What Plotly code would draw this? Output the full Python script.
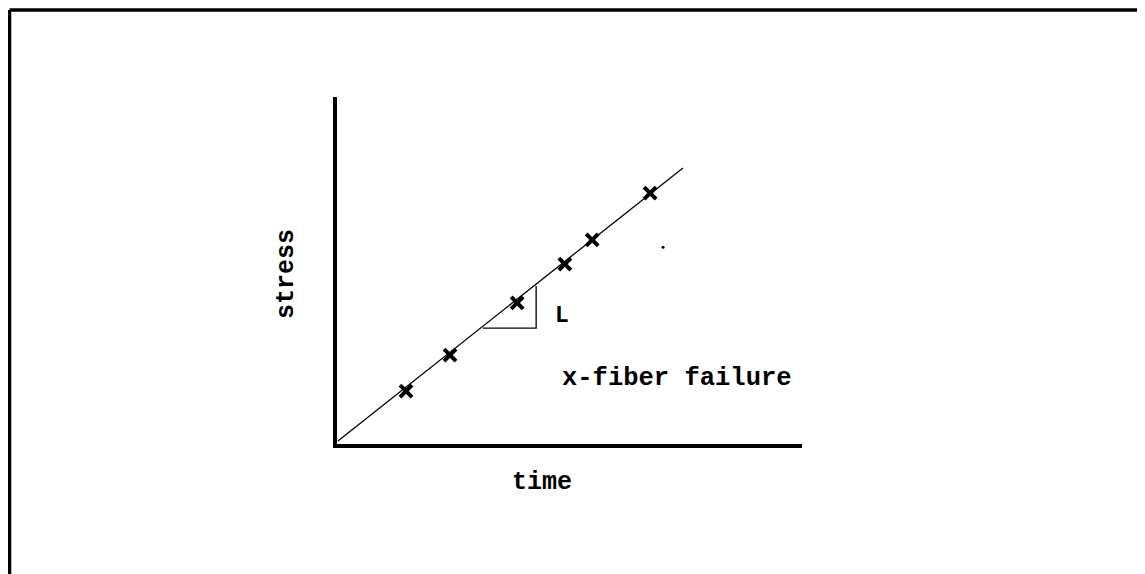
import plotly.graph_objects as go

# Data (abstract units: time vs stress)
fail_time = [1.49, 2.44, 3.89, 4.92, 5.51, 6.76]
fail_stress = [1.53, 2.57, 4.08, 5.20, 5.90, 7.25]
fit_time = [0.02, 7.47]
fit_stress = [0.09, 7.98]
slope_time = [3.15, 4.30, 4.30]
slope_stress = [3.35, 3.35, 4.57]

FONT = "Liberation Mono, Courier New, monospace"
OFF = 8  # browser body margin
W, H = 1145 - OFF, 574 - OFF

def px(x):
    return (x - OFF) / W

def py(y):
    return 1 - (y - OFF) / H

fig = go.Figure()
fig.add_trace(go.Scatter(x=fit_time, y=fit_stress, mode="lines",
                         line=dict(color="black", width=1.3), hoverinfo="skip"))
fig.add_trace(go.Scatter(x=slope_time, y=slope_stress, mode="lines",
                         line=dict(color="black", width=1.3), hoverinfo="skip"))
fig.add_trace(go.Scatter(x=fail_time, y=fail_stress, mode="markers",
                         marker=dict(symbol="x-thin", size=12, color="black",
                                     line=dict(width=4, color="black"))))
fig.add_trace(go.Scatter(x=[7.04], y=[5.69], mode="markers",
                         marker=dict(symbol="circle", size=3, color="black"),
                         hoverinfo="skip"))

fig.add_annotation(x=4.86, y=3.70, text="<b>L</b>", showarrow=False,
                   xanchor="center", yanchor="middle",
                   font=dict(family=FONT, size=23, color="black"))
fig.add_annotation(x=7.34, y=1.88, text="<b>x-fiber failure</b>", showarrow=False,
                   xanchor="center", yanchor="middle",
                   font=dict(family=FONT, size=25.5, color="black"))
fig.add_annotation(x=px(542), y=py(482), xref="paper", yref="paper",
                   text="<b>time</b>", showarrow=False,
                   xanchor="center", yanchor="middle",
                   font=dict(family=FONT, size=25, color="black"))
fig.add_annotation(x=px(286), y=py(274), xref="paper", yref="paper",
                   text="<b>stress</b>", showarrow=False, textangle=-90,
                   xanchor="center", yanchor="middle",
                   font=dict(family=FONT, size=25, color="black"))

# outer frame (top and left edges)
fig.add_shape(type="line", xref="paper", yref="paper",
              x0=px(9.5), y0=py(10), x1=1.0, y1=py(10),
              line=dict(color="black", width=3.5))
fig.add_shape(type="line", xref="paper", yref="paper",
              x0=px(9.5), y0=py(10), x1=px(9.5), y1=0,
              line=dict(color="black", width=3.5))

fig.update_layout(
    width=W, height=H,
    margin=dict(l=0, r=0, t=0, b=0),
    paper_bgcolor="white", plot_bgcolor="white",
    showlegend=False,
    xaxis=dict(domain=[px(337), px(802)], range=[0, 10.04], showgrid=False,
               zeroline=False, showticklabels=False, ticks="",
               showline=True, linecolor="black", linewidth=3.5, mirror=False),
    yaxis=dict(domain=[py(444), py(97)], range=[0, 10.03], showgrid=False,
               zeroline=False, showticklabels=False, ticks="",
               showline=True, linecolor="black", linewidth=3.5, mirror=False),
)

fig.write_html("out.html")
